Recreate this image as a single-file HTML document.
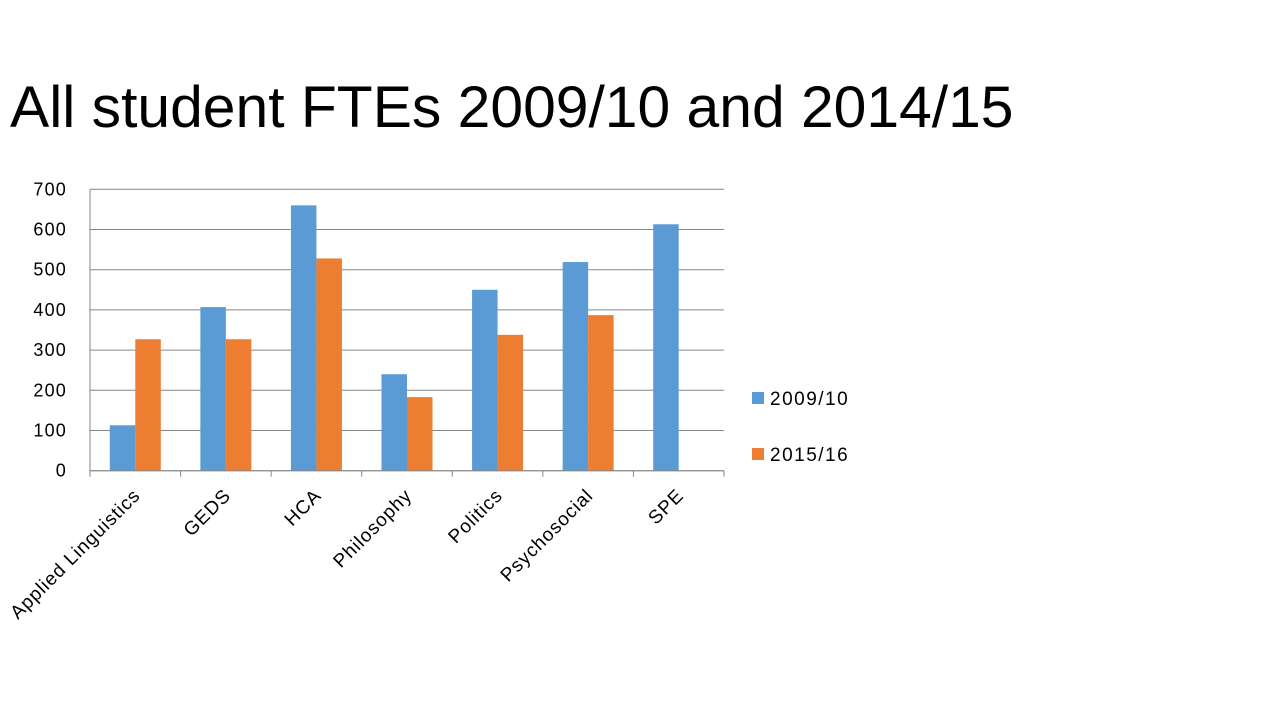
<!DOCTYPE html>
<html><head><meta charset="utf-8"><style>
html,body{margin:0;padding:0;background:#fff;width:1280px;height:720px;overflow:hidden;font-family:"Liberation Sans",sans-serif;}
</style></head><body>
<svg width="1280" height="720" xmlns="http://www.w3.org/2000/svg">
<text x="10" y="127" font-size="58.8" fill="#000" font-family="Liberation Sans, sans-serif">All student FTEs 2009/10 and 2014/15</text>
<g id="grid"></g>
<g id="bars"></g>
<g id="axes"></g>
<g>
<rect x="752" y="392" width="12" height="12" fill="#5b9bd5"/>
<text x="770" y="405" font-size="19" letter-spacing="1.5" fill="#000">2009/10</text>
<rect x="752" y="448" width="12" height="12" fill="#ed7d31"/>
<text x="770" y="461" font-size="19" letter-spacing="1.5" fill="#000">2015/16</text>
</g>
</svg>
<script>
const categories=["Applied Linguistics","GEDS","HCA","Philosophy","Politics","Psychosocial","SPE"];
const series2009=[113,407,660,240,450,519,613];
const series2015=[327,327,528,183,338,387,0];
const yTicks=[0,100,200,300,400,500,600,700];
const NS="http://www.w3.org/2000/svg";
const x0=90,x1=724,yBase=470.7,yTop=189.3,yMax=700;
const cw=(x1-x0)/categories.length;
function y(v){return yBase-(v/yMax)*(yBase-yTop);}
function mk(tag,attrs,parent){const e=document.createElementNS(NS,tag);for(const k in attrs)e.setAttribute(k,attrs[k]);parent.appendChild(e);return e;}
const grid=document.getElementById('grid'),bars=document.getElementById('bars'),axes=document.getElementById('axes');
yTicks.forEach(t=>{
 const l=mk('line',{x1:x0,x2:x1,y1:y(t),y2:y(t),stroke:'#868686','stroke-width':1},grid);
 
 
 const tx=mk('text',{x:67,y:y(t)+6,'text-anchor':'end','font-size':18,'letter-spacing':1.2,fill:'#000'},axes);
 tx.textContent=t;
 
 
});
const va=mk('line',{x1:x0,x2:x0,y1:yTop,y2:yBase+6,stroke:'#868686'},axes);


const bw=25.5;
categories.forEach((c,i)=>{
 const cx=x0+cw*(i+0.5);
 const b1=mk('rect',{x:cx-bw,y:y(series2009[i]),width:bw,height:yBase-y(series2009[i]),fill:'#5b9bd5'},bars);
 
 
 const b2=mk('rect',{x:cx,y:y(series2015[i]),width:bw,height:yBase-y(series2015[i]),fill:'#ed7d31'},bars);
 
 
 const tk=mk('line',{x1:x0+cw*(i+1),x2:x0+cw*(i+1),y1:yBase,y2:yBase+6,stroke:'#868686'},axes);
 
 
 const lx=cx+6,ly=yBase+26;
 const lab=mk('text',{x:lx,y:ly,'text-anchor':'end','font-size':19,'letter-spacing':0.9,fill:'#000',transform:`rotate(-45 ${lx} ${ly})`},axes);
 lab.textContent=c;
 
 
});
const ha=mk('line',{x1:x0,x2:x1,y1:yBase,y2:yBase,stroke:'#868686'},axes);


</script>
</body></html>
